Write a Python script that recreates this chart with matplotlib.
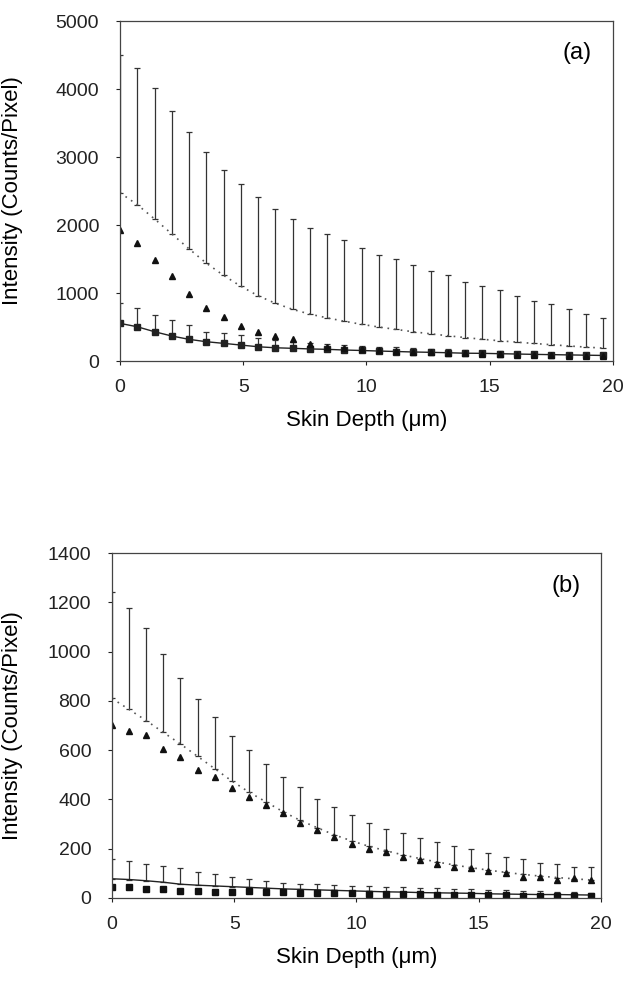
import numpy as np
import matplotlib.pyplot as plt

plt.rcParams['font.family'] = ['Liberation Sans', 'DejaVu Sans']

# skin depth positions (um), 29 optical sections
depth = np.arange(29) * 0.7

# ---- panel (a) ----
a_dotted = [2475, 2300, 2090, 1870, 1650, 1440, 1260, 1100, 960, 850, 760, 690, 635, 585,
            540, 500, 465, 430, 400, 372, 345, 320, 298, 278, 258, 240, 222, 205, 190]
a_dotted_upper = [4500, 4313, 4019, 3676, 3372, 3073, 2809, 2607, 2416, 2230, 2088, 1960, 1863, 1779,
                  1657, 1559, 1500, 1412, 1324, 1265, 1162, 1107, 1044, 960, 882, 838, 760, 691, 628]
a_triangles = [1920, 1730, 1485, 1245, 981, 785, 643, 520, 431, 372, 319, 246, 210, 190, 175,
               160, 148, 138, 128, 120, 112, 105, 98, 92, 87, 82, 78, 74, 70]
a_squares = [554, 504, 431, 368, 319, 284, 260, 235, 210, 195, 187, 178, 172, 162, 155,
             147, 140, 133, 128, 122, 115, 113, 108, 103, 98, 94, 90, 86, 82]
a_squares_upper = [850, 775, 676, 600, 530, 420, 405, 385, 340, 310, 285, 265, 250, 235, 220,
                   210, 200, 190, 180, 170, 160, 152, 145, 138, 130, 125, 118, 112, 105]

# ---- panel (b) ----
b_dotted = [810, 765, 720, 672, 625, 575, 525, 475, 430, 390, 350, 315, 285, 256, 232,
            210, 192, 175, 160, 146, 134, 123, 113, 104, 96, 89, 83, 78, 73]
b_dotted_upper = [1240, 1176, 1094, 990, 892, 806, 733, 659, 601, 543, 492, 451, 400, 368, 337,
                  306, 282, 265, 242, 228, 211, 197, 184, 168, 157, 143, 136, 127, 125]
b_triangles = [702, 679, 661, 605, 573, 519, 492, 445, 411, 377, 344, 305, 276, 246, 219,
               199, 188, 165, 154, 136, 124, 120, 111, 100, 86, 86, 73, 80, 73]
b_solid = [78, 75, 70, 64, 56, 52, 49, 46, 43, 40, 37, 35, 33, 31, 29,
           27, 25, 24, 22, 21, 20, 19, 17, 16, 15, 14, 14, 13, 12]
b_solid_upper = [160, 150, 138, 130, 120, 107, 97, 86, 76, 69, 62, 57, 55, 52, 50,
                 48, 46, 44, 42, 40, 38, 36, 34, 32, 30, 28, 26, 24, 22]
b_squares = [46, 43, 37, 36, 28, 30, 26, 26, 27, 25, 24, 22, 22, 20, 19,
             18, 17, 16, 15, 14, 13, 12, 11, 11, 10, 9, 9, 8, 8]


def upper_err(mean, upper):
    mean = np.array(mean, dtype=float)
    return [np.zeros_like(mean), np.array(upper) - mean]


def style_axes(ax, ymax, ystep, label, ylab_x):
    ax.set_xlim(0, 20)
    ax.set_ylim(0, ymax)
    ax.set_xticks(np.arange(0, 21, 5))
    ax.set_yticks(np.arange(0, ymax + 1, ystep))
    ax.tick_params(direction='out', length=3, width=0.8, labelsize=14, colors='#222')
    ax.tick_params(axis='y', pad=12)
    ax.tick_params(axis='x', pad=10)
    for s in ax.spines.values():
        s.set_color('#444')
        s.set_linewidth(0.9)
    ax.set_xlabel('Skin Depth (\u03bcm)', fontsize=16, labelpad=10)
    ax.set_ylabel('Intensity (Counts/Pixel)', fontsize=16)
    ax.yaxis.set_label_coords(ylab_x, 0.5)
    ax.text(0.928, 0.905, label, transform=ax.transAxes, fontsize=17,
            ha='center', va='center')


fig = plt.figure(figsize=(6.26, 9.84), dpi=100)
ax1 = fig.add_axes([0.1917, 0.6331, 0.7875, 0.3455])
ax2 = fig.add_axes([0.1789, 0.0874, 0.7810, 0.3506])

ebkw = dict(ecolor='#333', elinewidth=0.9, capsize=2, capthick=0.9)

# panel (a)
ax1.errorbar(depth, a_dotted, yerr=upper_err(a_dotted, a_dotted_upper), fmt='none', **ebkw)
ax1.plot(depth, a_dotted, ls=(0, (1, 3)), color='#555', lw=1.2)
ax1.errorbar(depth, a_squares, yerr=upper_err(a_squares, a_squares_upper), fmt='none', **ebkw)
ax1.plot(depth, a_squares, '-', color='#222', lw=1.0, marker='s', ms=4)
ax1.plot(depth, a_triangles, '^', color='#111', ms=4.5, ls='none')
style_axes(ax1, 5000, 1000, '(a)', -0.197)

# panel (b)
ax2.errorbar(depth, b_dotted, yerr=upper_err(b_dotted, b_dotted_upper), fmt='none', **ebkw)
ax2.plot(depth, b_dotted, ls=(0, (1, 3)), color='#555', lw=1.2)
ax2.plot(depth, b_triangles, '^', color='#111', ms=4.5, ls='none')
ax2.errorbar(depth, b_solid, yerr=upper_err(b_solid, b_solid_upper), fmt='none', **ebkw)
ax2.plot(depth, b_solid, '-', color='#222', lw=1.0)
ax2.plot(depth, b_squares, 's', color='#111', ms=4, ls='none')
style_axes(ax2, 1400, 200, '(b)', -0.182)

fig.savefig('out.png', dpi=100)
